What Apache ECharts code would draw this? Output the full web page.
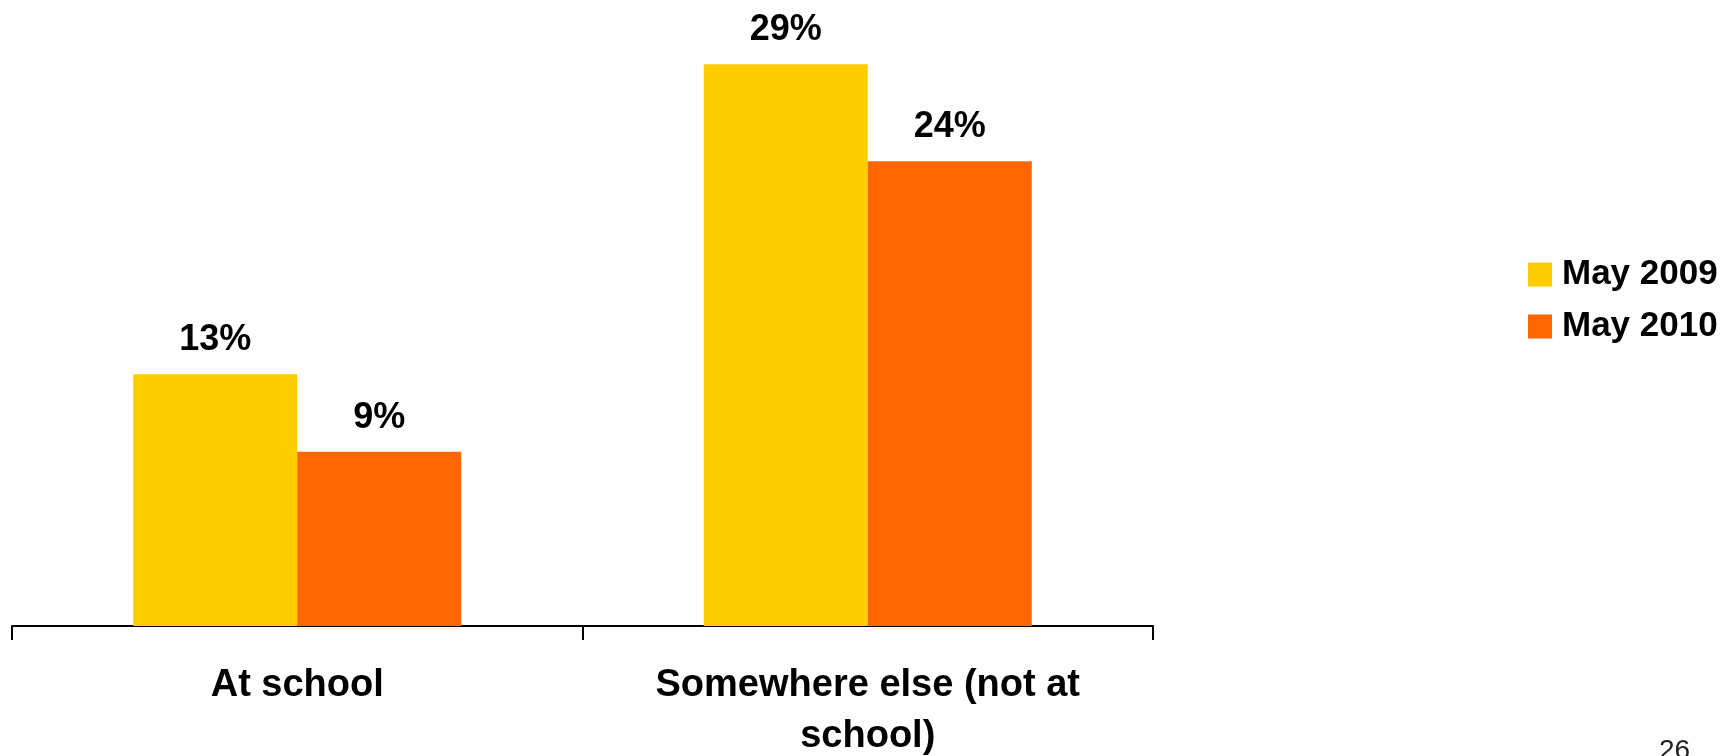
<!DOCTYPE html>
<html>
<head>
<meta charset="utf-8">
<script src="https://cdn.jsdelivr.net/npm/echarts@6/dist/echarts.min.js"></script>
<style>
html,body{margin:0;padding:0;background:#fff;}
#chart{width:1735px;height:756px;}
</style>
</head>
<body>
<div id="chart"></div>
<script>
const categories = ['At school', 'Somewhere else (not at\nschool)'];
const seriesNames = ['May 2009', 'May 2010'];
const may2009 = [13, 29];
const may2010 = [9, 24];
const pageNumber = '26';

const FONT = '"Liberation Sans", Arial, Helvetica, sans-serif';
const colors = ['#FFCC00', '#FF6600'];

const chart = echarts.init(document.getElementById('chart'), null, {renderer: 'canvas'});

function makeSeries(name, data, color) {
  return {
    name: name,
    type: 'bar',
    data: data,
    barGap: '0%',
    barCategoryGap: '42.5%',
    itemStyle: {color: color},
    label: {
      show: true,
      position: 'top',
      distance: 16,
      formatter: '{c}%',
      fontFamily: FONT,
      fontWeight: 'bold',
      fontSize: 36,
      color: '#000'
    }
  };
}

chart.setOption({
  animation: false,
  backgroundColor: '#fff',
  color: colors,
  grid: {left: 12, right: 582, top: 45, bottom: 130, containLabel: false, outerBoundsMode: 'none'},
  legend: {
    orient: 'vertical',
    left: 1523,
    top: 252,
    itemWidth: 24,
    itemHeight: 24,
    itemGap: 17,
    icon: 'rect',
    data: seriesNames,
    textStyle: {
      fontFamily: FONT,
      fontWeight: 'bold',
      fontSize: 35,
      color: '#000',
      padding: [0, 0, 0, 5]
    }
  },
  xAxis: {
    type: 'category',
    data: categories,
    axisLine: {lineStyle: {color: '#000', width: 2}},
    axisTick: {show: true, length: 14, lineStyle: {color: '#000', width: 2}},
    axisLabel: {
      margin: 34,
      fontFamily: FONT,
      fontWeight: 'bold',
      fontSize: 38,
      lineHeight: 51,
      color: '#000',
      interval: 0
    }
  },
  yAxis: {
    type: 'value',
    min: 0,
    max: 30,
    show: false,
    splitLine: {show: false}
  },
  series: [
    makeSeries(seriesNames[0], may2009, colors[0]),
    makeSeries(seriesNames[1], may2010, colors[1])
  ],
  graphic: [{
    type: 'text',
    left: 1659,
    top: 737,
    style: {
      text: pageNumber,
      fontFamily: FONT,
      fontSize: 28,
      fill: '#222'
    }
  }]
});
</script>
</body>
</html>
